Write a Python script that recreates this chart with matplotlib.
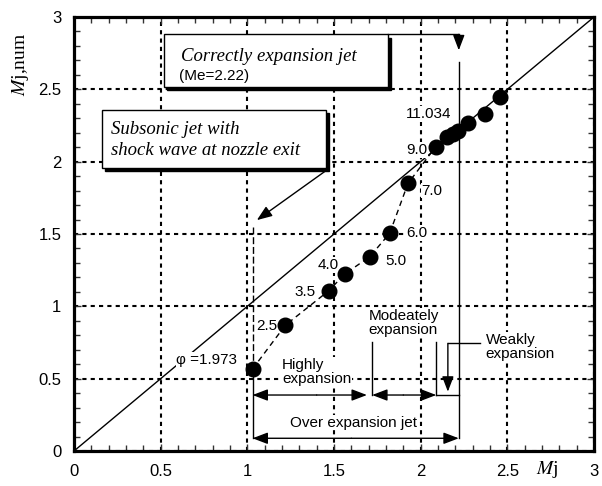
import matplotlib
matplotlib.use('Agg')
import matplotlib.pyplot as plt
from matplotlib.patches import Rectangle, FancyArrowPatch

plt.rcParams['font.family'] = ['Liberation Sans', 'DejaVu Sans']
plt.rcParams['mathtext.fontset'] = 'stix'

# data
mj = [1.03, 1.22, 1.47, 1.562, 1.706, 1.821, 1.927, 2.087,
      2.154, 2.186, 2.215, 2.272, 2.371, 2.455]
mj_num = [0.567, 0.87, 1.108, 1.223, 1.343, 1.504, 1.85, 2.103,
          2.172, 2.19, 2.214, 2.264, 2.327, 2.448]
phi_labels = ['φ =1.973', '2.5', '3.5', '4.0', '5.0', '6.0', '7.0', '9.0', '11.034']
me_correct = 2.22
ticks = [0, 0.5, 1, 1.5, 2, 2.5, 3]
tick_labels = ['0', '0.5', '1', '1.5', '2', '2.5', '3']

fig = plt.figure(figsize=(6.02, 4.86), dpi=100)
ax = fig.add_axes([0.1229, 0.072, 0.8638, 0.893])
ax.set_xlim(0, 3)
ax.set_ylim(0, 3)

ax.set_xticks(ticks)
ax.set_yticks(ticks)
ax.set_xticklabels(tick_labels, fontsize=12)
ax.set_yticklabels(tick_labels, fontsize=12)
ax.set_xticks([i / 10 for i in range(31)], minor=True)
ax.set_yticks([i / 10 for i in range(31)], minor=True)
ax.tick_params(which='both', direction='in', top=True, right=True, width=1, color='#333')
ax.tick_params(which='major', length=5, pad=9)
ax.tick_params(which='minor', length=4)
for s in ax.spines.values():
    s.set_linewidth(2.3)

ax.grid(True, which='major', color='black', linestyle=(0, (2, 2)), linewidth=1.5, zorder=0)
ax.set_axisbelow(True)

# diagonal Mj,num = Mj
ax.plot([0, 3], [0, 3], color='black', lw=1, zorder=2)

# dashed trend through the lower points
ax.plot(mj[:8], mj_num[:8], color='black', lw=1, linestyle=(0, (4, 3)), zorder=2)
ax.plot(mj, mj_num, 'o', color='black', markersize=10.5, zorder=5)

# point labels
lab_pos = [(0.767, 0.63), (1.11, 0.864), (1.33, 1.10), (1.465, 1.285), (1.86, 1.31),
           (1.98, 1.506), (2.065, 1.80), (1.975, 2.08), (2.046, 2.33)]
for t, (x, y) in zip(phi_labels, lab_pos):
    ax.text(x, y, t, fontsize=11, ha='center', va='center', zorder=4,
            bbox=dict(facecolor='white', edgecolor='none', pad=0.5))

# boxes with drop shadows
def shadow_box(x0, y0, x1, y1):
    ax.add_patch(Rectangle((x0 + 0.018, y0 - 0.022), x1 - x0, y1 - y0,
                           facecolor='black', edgecolor='black', zorder=6))
    ax.add_patch(Rectangle((x0, y0), x1 - x0, y1 - y0,
                           facecolor='white', edgecolor='black', lw=1, zorder=7))

shadow_box(0.519, 2.515, 1.81, 2.88)
ax.text(0.615, 2.73, 'Correctly expansion jet', family='Liberation Serif',
        style='italic', fontsize=13.5, va='center', zorder=8)
ax.text(0.605, 2.59, '(Me=2.22)', fontsize=11, va='center', zorder=8)

shadow_box(0.163, 1.955, 1.456, 2.36)
ax.text(0.215, 2.22, 'Subsonic jet with', family='Liberation Serif',
        style='italic', fontsize=13.5, va='center', zorder=8)
ax.text(0.215, 2.075, 'shock wave at nozzle exit', family='Liberation Serif',
        style='italic', fontsize=13.5, va='center', zorder=8)

def arrow(p0, p1, style='-|>,head_length=0.42,head_width=0.16'):
    ax.add_patch(FancyArrowPatch(p0, p1, arrowstyle=style, mutation_scale=22,
                                 color='black', lw=1, shrinkA=0, shrinkB=0, zorder=6))

# correctly expanded arrow and vertical line
ax.plot([1.81, me_correct], [2.88, 2.88], color='black', lw=1, zorder=6)
arrow((me_correct, 2.88), (me_correct, 2.77))
ax.plot([me_correct, me_correct], [2.69, 0.088], color='black', lw=1, zorder=3)

# subsonic arrow
arrow((1.456, 1.94), (1.055, 1.596))
ax.plot([mj[0], mj[0]], [1.55, 0.62], color='black', lw=1, linestyle=(0, (5, 2)), zorder=3)
ax.plot([mj[0], mj[0]], [0.52, 0.088], color='black', lw=1, zorder=3)

# expansion ranges
arrow((1.40, 0.387), (mj[0], 0.387))
arrow((1.40, 0.387), (1.69, 0.387))
arrow((1.90, 0.387), (1.72, 0.387))
arrow((1.90, 0.387), (2.09, 0.387))
ax.plot([2.09, me_correct], [0.387, 0.387], color='black', lw=1, zorder=3)
ax.plot([1.72, 1.72], [0.755, 0.387], color='black', lw=1, zorder=3)
ax.plot([2.09, 2.09], [0.755, 0.387], color='black', lw=1, zorder=3)
ax.plot([2.34, 2.157], [0.744, 0.744], color='black', lw=1, zorder=3)
arrow((2.157, 0.744), (2.157, 0.41))

arrow((1.6, 0.088), (mj[0], 0.088))
arrow((1.6, 0.088), (me_correct, 0.088))

ax.text(1.2, 0.545, 'Highly\nexpansion', fontsize=11, ha='left', va='center',
        linespacing=1.05, zorder=4, bbox=dict(facecolor='white', edgecolor='none', pad=0.5))
ax.text(1.70, 0.886, 'Modeately\nexpansion', fontsize=11, ha='left', va='center',
        linespacing=1.05, zorder=4, bbox=dict(facecolor='white', edgecolor='none', pad=0.5))
ax.text(2.375, 0.72, 'Weakly\nexpansion', fontsize=11, ha='left', va='center',
        linespacing=1.05, zorder=4, bbox=dict(facecolor='white', edgecolor='none', pad=0.5))
ax.text(1.614, 0.196, 'Over expansion jet', fontsize=11, ha='center', va='center',
        zorder=4, bbox=dict(facecolor='white', edgecolor='none', pad=0.5))

# axis labels
ax.text(2.73, -0.13, '$M$j', family='Liberation Serif', fontsize=14,
        ha='center', va='center', clip_on=False)
ax.text(-0.31, 2.67, '$M$j,num', family='Liberation Serif', fontsize=14,
        ha='center', va='center', rotation=90, clip_on=False)

fig.savefig('out.png', dpi=100)
